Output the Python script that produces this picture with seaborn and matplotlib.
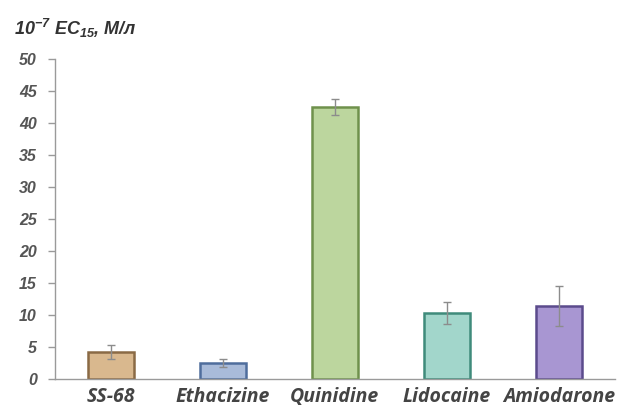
import matplotlib
matplotlib.use("Agg")
import matplotlib.pyplot as plt
import seaborn as sns
import numpy as np
import pandas as pd

categories = ["SS-68", "Ethacizine", "Quinidine", "Lidocaine", "Amiodarone"]
values = [4.2, 2.5, 42.5, 10.3, 11.4]
errors = [1.1, 0.6, 1.2, 1.7, 3.1]
fill_colors = ["#d9b88e", "#a9bbd9", "#bcd69e", "#a2d6cb", "#a896d2"]
edge_colors = ["#8a6a45", "#4f6d9c", "#6f914c", "#3f8b7b", "#5b4b8c"]
y_ticks = [0, 5, 10, 15, 20, 25, 30, 35, 40, 45, 50]

sns.set_theme(style="white")
plt.rcParams["font.family"] = ["Liberation Sans", "DejaVu Sans"]
plt.rcParams["mathtext.default"] = "regular"

df = pd.DataFrame({"drug": categories, "value": values})

fig = plt.figure(figsize=(6.22, 4.08), dpi=100)
ax = fig.add_axes([0.0884, 0.071, 0.900, 0.784])

sns.barplot(data=df, x="drug", y="value", hue="drug", palette=fill_colors,
            order=categories, hue_order=categories, width=0.41, legend=False,
            ax=ax, saturation=1)
for patch, ec in zip(ax.patches, edge_colors):
    patch.set_edgecolor(ec)
    patch.set_linewidth(1.8)

ax.errorbar(np.arange(len(categories)), values, yerr=errors, fmt="none",
            ecolor="#8c8c8c", elinewidth=1.0, capsize=3, capthick=1.0)

ax.set_xlim(-0.5, 4.5)
ax.set_ylim(0, 50)
ax.set_yticks(y_ticks)
ax.set_yticklabels([str(t) for t in y_ticks], fontstyle="italic",
                   fontweight="bold", fontsize=11.5, color="#555555")
ax.set_xticks(range(len(categories)))
ax.set_xticklabels(categories, fontstyle="italic", fontweight="bold",
                   fontsize=14, color="#444444", family=["Open Sans", "DejaVu Sans"])
ax.set_xticks(np.arange(-0.5, 5.0, 1.0), minor=True)
ax.tick_params(axis="x", which="major", length=0, pad=6)
ax.tick_params(axis="x", which="minor", length=5, color="#9a9a9a", width=1)
ax.tick_params(axis="y", which="major", length=5, color="#9a9a9a", width=1,
               left=True, pad=8)
ax.set_xlabel("")
ax.set_ylabel("")
for s in ["top", "right"]:
    ax.spines[s].set_visible(False)
for s in ["left", "bottom"]:
    ax.spines[s].set_color("#9a9a9a")
    ax.spines[s].set_linewidth(1)

fig.text(0.022, 0.93, r"$10^{-7}$ EC$_{15}$, М/л", fontsize=13,
         fontstyle="italic", fontweight="bold", color="#333333",
         ha="left", va="center")

fig.savefig("out.png", dpi=100)
